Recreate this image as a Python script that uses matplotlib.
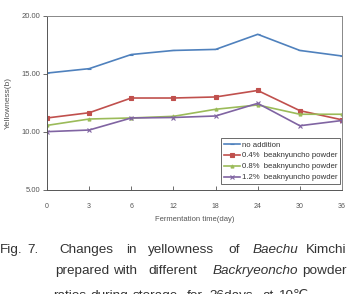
import matplotlib
matplotlib.use("Agg")
import matplotlib.pyplot as plt
import numpy as np

plt.rcParams['font.family'] = ['Liberation Sans', 'DejaVu Sans']

days = ["0", "3", "6", "12", "18", "24", "30", "36"]
no_addition = [15.08, 15.46, 16.68, 17.03, 17.12, 18.42, 17.03, 16.55]
p04 = [11.21, 11.66, 12.93, 12.93, 13.02, 13.58, 11.84, 11.05]
p08 = [10.57, 11.12, 11.21, 11.35, 11.96, 12.33, 11.53, 11.53]
p12 = [10.03, 10.17, 11.21, 11.25, 11.38, 12.47, 10.54, 10.99]
series_labels = ["no addition", "0.4%  beaknyuncho powder",
                 "0.8%  beaknyuncho powder", "1.2%  beaknyuncho powder"]
yticks = [5, 10, 15, 20]

W, H = 347, 294
fig = plt.figure(figsize=(W / 100, H / 100), dpi=100)
ax = fig.add_axes([47 / W, 1 - 190 / H, 295 / W, 174 / H])

x = np.arange(len(days))
colors = ["#4F81BD", "#C0504D", "#9BBB59", "#8064A2"]
markers = ["_", "s", "^", "x"]
for vals, c, m, lab in zip([no_addition, p04, p08, p12], colors, markers, series_labels):
    ax.plot(x, vals, color=c, lw=1.2, marker=m, ms=2.2, mew=0.8, label=lab)

ax.set_xlim(0, len(days) - 1)
ax.set_ylim(5, 20)
ax.set_xticks(x)
ax.set_xticklabels(days)
ax.set_yticks(yticks)
ax.set_yticklabels([f"{v:.2f}" for v in yticks])
ax.tick_params(axis='x', direction='in', length=3, width=0.6, colors='#555555',
               labelsize=5, labelcolor='#555555', pad=9)
ax.tick_params(axis='y', direction='out', length=3, width=0.6, colors='#555555',
               labelsize=5.5, labelcolor='#555555', pad=2)
for s in ax.spines.values():
    s.set_color('#555555')
    s.set_linewidth(0.7)
for s in ['top', 'right']:
    ax.spines[s].set_color('#888888')

ax.set_xlabel("Fermentation time(day)", fontsize=5.5, color='#555555', labelpad=5)
ax.set_ylabel("Yellowness(b)", fontsize=6, color='#555555', labelpad=7)

leg = ax.legend(loc='lower right', bbox_to_anchor=(1.0, 0.025), fontsize=5.6,
                handlelength=2.0, handletextpad=0.3, borderpad=0.35,
                labelspacing=0.45, frameon=True, fancybox=False, borderaxespad=0.2)
leg.get_frame().set_edgecolor('#444444')
leg.get_frame().set_linewidth(0.7)
for t in leg.get_texts():
    t.set_color('#333333')

cap_color = '#333333'
fs = 9.7
line1 = [("Fig.", 0, False), ("7.", 27, False), ("Changes", 59, False), ("in", 126, False),
         ("yellowness", 148, False), ("of", 228, False), ("Baechu", 253, True),
         ("Kimchi", 306, False)]
line2 = [("prepared", 55, False), ("with", 113, False), ("different", 148, False),
         ("Backryeoncho", 213, True), ("powder", 302, False)]
line3 = [("ratios", 53, False), ("during", 90, False), ("storage", 133, False),
         ("for", 187, False), ("36days", 210, False), ("at", 262, False),
         ("10℃.", 278, False)]
for words, yc in [(line1, 250), (line2, 271), (line3, 296)]:
    for w, xp, it in words:
        fig.text(xp / W, 1 - yc / H, w, fontsize=fs, color=cap_color, ha='left',
                 va='center', style='italic' if it else 'normal')

fig.savefig("out.png", dpi=100)
